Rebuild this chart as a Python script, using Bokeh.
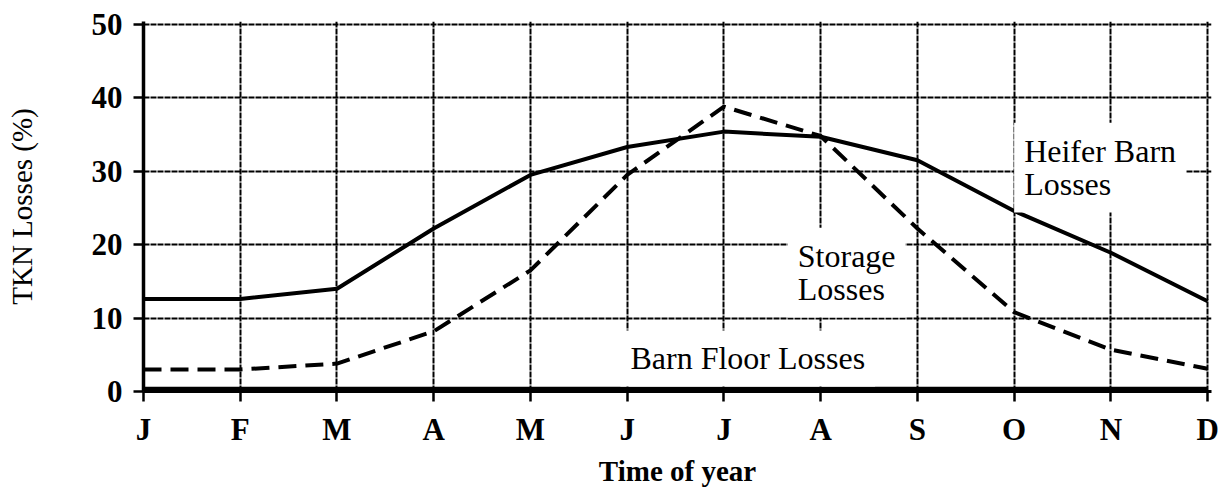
from bokeh.plotting import figure
from bokeh.models import Range1d, Label, FixedTicker
from bokeh.embed import file_html
from bokeh.resources import INLINE

# ---- data ----
month_labels = ["J", "F", "M", "A", "M", "J", "J", "A", "S", "O", "N", "D"]
month_index = [0, 1, 2, 3, 4, 5, 6, 7, 8, 9, 10, 11]
heifer_barn = [12.6, 12.6, 14.0, 22.2, 29.5, 33.3, 35.4, 34.7, 31.5, 24.6, 18.9, 12.3]
storage = [3.0, 3.0, 3.8, 8.2, 16.5, 29.5, 38.8, 34.8, 22.2, 10.8, 5.7, 3.1]
barn_floor = [0.3, 0.3, 0.3, 0.3, 0.3, 0.3, 0.3, 0.3, 0.3, 0.3, 0.3, 0.3]
y_ticks = [0, 10, 20, 30, 40, 50]

FONT = "Liberation Serif"

p = figure(frame_width=1068, frame_height=370,
           x_range=Range1d(0, 11.04), y_range=Range1d(0, 50.4),
           output_backend="svg", toolbar_location=None,
           min_border_left=143, min_border_right=8,
           min_border_top=21, min_border_bottom=99)
p.outline_line_color = None
p.background_fill_color = "white"

# grid
for g in (p.xgrid, p.ygrid):
    g.grid_line_color = "black"
    g.grid_line_width = 2
    g.grid_line_dash = "6 1"
p.xaxis.ticker = FixedTicker(ticks=month_index)
p.yaxis.ticker = FixedTicker(ticks=y_ticks)
p.xgrid.ticker = FixedTicker(ticks=month_index)
p.ygrid.ticker = FixedTicker(ticks=y_ticks)
p.xaxis.major_label_overrides = {i: m for i, m in zip(month_index, month_labels)}

for ax in (p.xaxis, p.yaxis):
    ax.axis_line_color = "black"
    ax.major_tick_line_color = "black"
    ax.major_tick_line_width = 2.5
    ax.major_tick_out = 10
    ax.major_tick_in = 0
    ax.minor_tick_line_color = None
    ax.major_label_text_font = FONT
    ax.major_label_text_font_style = "bold"
    ax.major_label_text_font_size = "31px"
    ax.major_label_text_color = "black"
    ax.axis_label_text_font = FONT
    ax.axis_label_text_font_size = "29px"
    ax.axis_label_text_color = "black"

p.yaxis.axis_line_width = 3.5
p.xaxis.axis_line_width = 3
p.yaxis.major_label_standoff = 11
p.xaxis.major_label_standoff = 10
p.xaxis.axis_label = "Time of year"
p.xaxis.axis_label_text_font_style = "bold"
p.xaxis.axis_label_standoff = 5
p.yaxis.axis_label = "TKN Losses (%)"
p.yaxis.axis_label_text_font_style = "normal"
p.yaxis.axis_label_standoff = 51

# series
p.line(month_index, barn_floor, line_color="black", line_width=5)
p.line(month_index, heifer_barn, line_color="black", line_width=4)
p.line(month_index, storage, line_color="black", line_width=4, line_dash="18 9")

# in-plot labels
def add_label(x, y, text):
    lab = Label(x=x, y=y, text=text, text_font=FONT, text_font_size="32px",
                text_color="black", text_align="left", text_baseline="middle",
                text_line_height=0.94,
                background_fill_color="white", padding=10)
    p.add_layout(lab)

add_label(9.0, 30.5, "Heifer Barn\nLosses")
add_label(6.66, 16.2, "Storage\nLosses")
add_label(4.93, 4.5, "Barn Floor Losses")

open("out.html", "w").write(file_html(p, INLINE))
